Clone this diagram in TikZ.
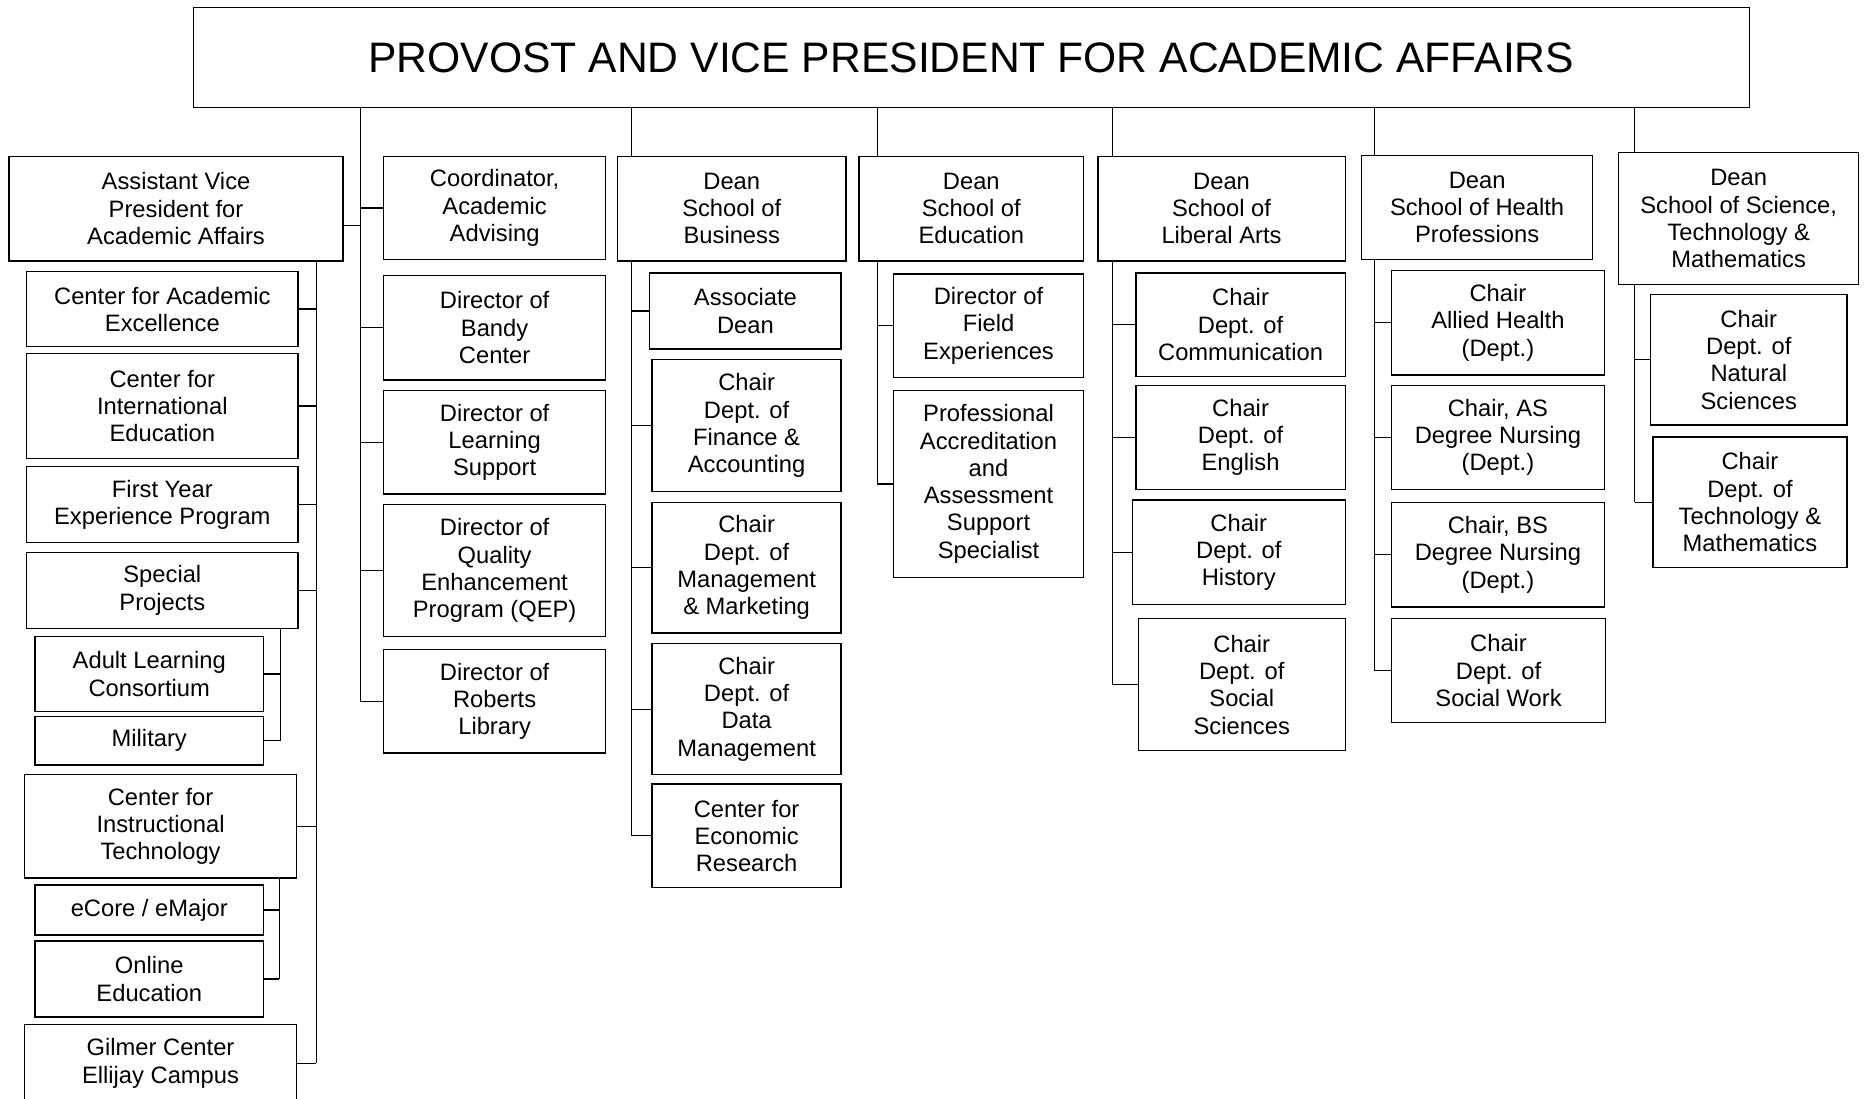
\documentclass[tikz,border=0pt]{standalone}
\usepackage{fontspec}
\setmainfont{Liberation Sans}
\usetikzlibrary{positioning, calc}

\begin{document}
\begin{tikzpicture}[
        x=0.025cm, y=-0.025cm, % one unit = one pixel of the chart
        % --- STYLES ---
        % 1. Boxes of the chart
        box/.style={
                draw,
                line width=0.8pt,
                align=center,
                inner sep=0pt,
                anchor=north west,
                font=\fontsize{14.2}{16.3}\selectfont
            },
        % 2. Size of a box, in pixels (width, height)
        rect/.style 2 args={
                minimum width=#1*0.025cm,
                minimum height=#2*0.025cm
            },
        % 3. Connecting lines
        link/.style={
                line width=0.8pt
            }
    ]

    \useasboundingbox (0,0) rectangle (1568,924);

    % 1. Top of the chart
    \node[box, rect={1309}{84}, font=\fontsize{25.5}{30}\selectfont] (provost) at (162,6)
    {\raisebox{-0.075cm}{PROVOST AND VICE PRESIDENT FOR ACADEMIC AFFAIRS}};

    % 2. Assistant Vice President and offices
    \node[box, rect={281}{88}] (avp) at (7,131) {Assistant Vice\\President for\\Academic Affairs};
    \node[box, rect={228}{63}] (cae) at (22,228) {Center for Academic\\Excellence};
    \node[box, rect={228}{88}] (cie) at (22,297) {Center for\\International\\Education};
    \node[box, rect={228}{64}] (fye) at (22,392) {First Year\\Experience Program};
    \node[box, rect={228}{64}] (spec) at (22,464) {Special\\Projects};
    \node[box, rect={192}{63}] (alc) at (29,535) {Adult Learning\\Consortium};
    \node[box, rect={192}{41}] (mil) at (29,602) {Military};
    \node[box, rect={229}{87}] (cit) at (20,651) {Center for\\Instructional\\Technology};
    \node[box, rect={192}{42}] (ecore) at (29,744) {eCore / eMajor};
    \node[box, rect={192}{64}] (online) at (29,791) {Online\\Education};
    \node[box, rect={229}{66}] (gilmer) at (20,861) {Gilmer Center\\Ellijay Campus};

    % 3. Directors under the Provost
    \node[box, rect={187}{87}] (coord) at (322,131) {Coordinator,\\Academic\\Advising};
    \node[box, rect={187}{88}] (bandy) at (322,231) {Director of\\Bandy\\Center};
    \node[box, rect={187}{87}] (learn) at (322,328) {Director of\\Learning\\Support};
    \node[box, rect={187}{111}] (qep) at (322,424) {Director of\\Quality\\Enhancement\\Program (QEP)};
    \node[box, rect={187}{87}] (roberts) at (322,546) {Director of\\Roberts\\Library};

    % 4. School of Business
    \node[box, rect={192}{88}] (busdean) at (519,131) {Dean\\School of\\Business};
    \node[box, rect={161}{64}] (assoc) at (546,229) {Associate\\Dean};
    \node[box, rect={159}{111}] (fin) at (548,302) {Chair\\Dept. of\\Finance \&\\Accounting};
    \node[box, rect={159}{110}] (mgmt) at (548,422) {Chair\\Dept. of\\Management\\\& Marketing};
    \node[box, rect={159}{110}] (data) at (548,541) {Chair\\Dept. of\\Data\\Management};
    \node[box, rect={159}{87}] (econ) at (548,659) {Center for\\Economic\\Research};

    % 5. School of Education
    \node[box, rect={189}{88}] (edudean) at (722,131) {Dean\\School of\\Education};
    \node[box, rect={160}{87}] (field) at (751,230) {Director of\\Field\\Experiences};
    \node[box, rect={160}{157}] (accr) at (751,328)
    {Professional\\Accreditation\\and\\Assessment\\Support\\Specialist};

    % 6. School of Liberal Arts
    \node[box, rect={208}{88}] (ladean) at (923,131) {Dean\\School of\\Liberal Arts};
    \node[box, rect={176}{87}] (comm) at (955,229) {Chair\\Dept. of\\Communication};
    \node[box, rect={176}{87}] (eng) at (955,324) {Chair\\Dept. of\\English};
    \node[box, rect={179}{88}] (hist) at (952,420) {Chair\\Dept. of\\History};
    \node[box, rect={174}{111}] (soc) at (957,520) {Chair\\Dept. of\\Social\\Sciences};

    % 7. School of Health Professions
    \node[box, rect={194}{88}] (hpdean) at (1145,130) {Dean\\School of Health\\Professions};
    \node[box, rect={179}{88}] (allied) at (1170,227) {Chair\\Allied Health\\(Dept.)};
    \node[box, rect={179}{87}] (asn) at (1170,324) {Chair, AS\\Degree Nursing\\(Dept.)};
    \node[box, rect={179}{88}] (bsn) at (1170,422) {Chair, BS\\Degree Nursing\\(Dept.)};
    \node[box, rect={180}{87}] (sw) at (1170,520) {Chair\\Dept. of\\Social Work};

    % 8. School of Science, Technology & Mathematics
    \node[box, rect={202}{111}] (stemdean) at (1361,128) {Dean\\School of Science,\\Technology \&\\Mathematics};
    \node[box, rect={165}{110}] (nat) at (1388,247) {Chair\\Dept. of\\Natural\\Sciences};
    \node[box, rect={163}{110}] (tm) at (1390,367) {Chair\\Dept. of\\Technology \&\\Mathematics};

    % --- LINES ---
    % x of each vertical line
    \coordinate (avpT) at (266,0);
    \coordinate (specT) at (236,0);
    \coordinate (citT) at (235,0);
    \coordinate (coordT) at (303,0);
    \coordinate (busT) at (531,0);
    \coordinate (eduT) at (738,0);
    \coordinate (laT) at (936,0);
    \coordinate (hpT) at (1156,0);
    \coordinate (stemT) at (1375,0);

    % Provost down to each column
    \draw[link] (provost.south -| coordT) -- (roberts.west -| coordT);
    \draw[link] ([yshift=-0.35cm]avp.east) -- ([yshift=-0.35cm]avp.east -| coordT);
    \foreach \n in {coord, bandy, learn, qep, roberts}
    \draw[link] (\n.west -| coordT) -- (\n.west);

    \draw[link] (provost.south -| busT) -- (busdean.north -| busT);
    \draw[link] (provost.south -| eduT) -- (edudean.north -| eduT);
    \draw[link] (provost.south -| laT) -- (ladean.north -| laT);
    \draw[link] (provost.south -| hpT) -- (hpdean.north -| hpT);
    \draw[link] (provost.south -| stemT) -- (stemdean.north -| stemT);

    % Assistant Vice President offices
    \draw[link] (avp.south -| avpT) -- (gilmer.east -| avpT);
    \foreach \n in {cae, cie, fye, spec, cit, gilmer}
    \draw[link] (\n.east) -- (\n.east -| avpT);
    \draw[link] (spec.south -| specT) -- (mil.east -| specT);
    \foreach \n in {alc, mil}
    \draw[link] (\n.east) -- (\n.east -| specT);
    \draw[link] (cit.south -| citT) -- (online.east -| citT);
    \foreach \n in {ecore, online}
    \draw[link] (\n.east) -- (\n.east -| citT);

    % Schools
    \draw[link] (busdean.south -| busT) -- (econ.west -| busT);
    \foreach \n in {assoc, fin, mgmt, data, econ}
    \draw[link] (\n.west -| busT) -- (\n.west);

    \draw[link] (edudean.south -| eduT) -- (accr.west -| eduT);
    \foreach \n in {field, accr}
    \draw[link] (\n.west -| eduT) -- (\n.west);

    \draw[link] (ladean.south -| laT) -- (soc.west -| laT);
    \foreach \n in {comm, eng, hist, soc}
    \draw[link] (\n.west -| laT) -- (\n.west);

    \draw[link] (hpdean.south -| hpT) -- (sw.west -| hpT);
    \foreach \n in {allied, asn, bsn, sw}
    \draw[link] (\n.west -| hpT) -- (\n.west);

    \draw[link] (stemdean.south -| stemT) -- (tm.west -| stemT);
    \foreach \n in {nat, tm}
    \draw[link] (\n.west -| stemT) -- (\n.west);

\end{tikzpicture}
\end{document}
